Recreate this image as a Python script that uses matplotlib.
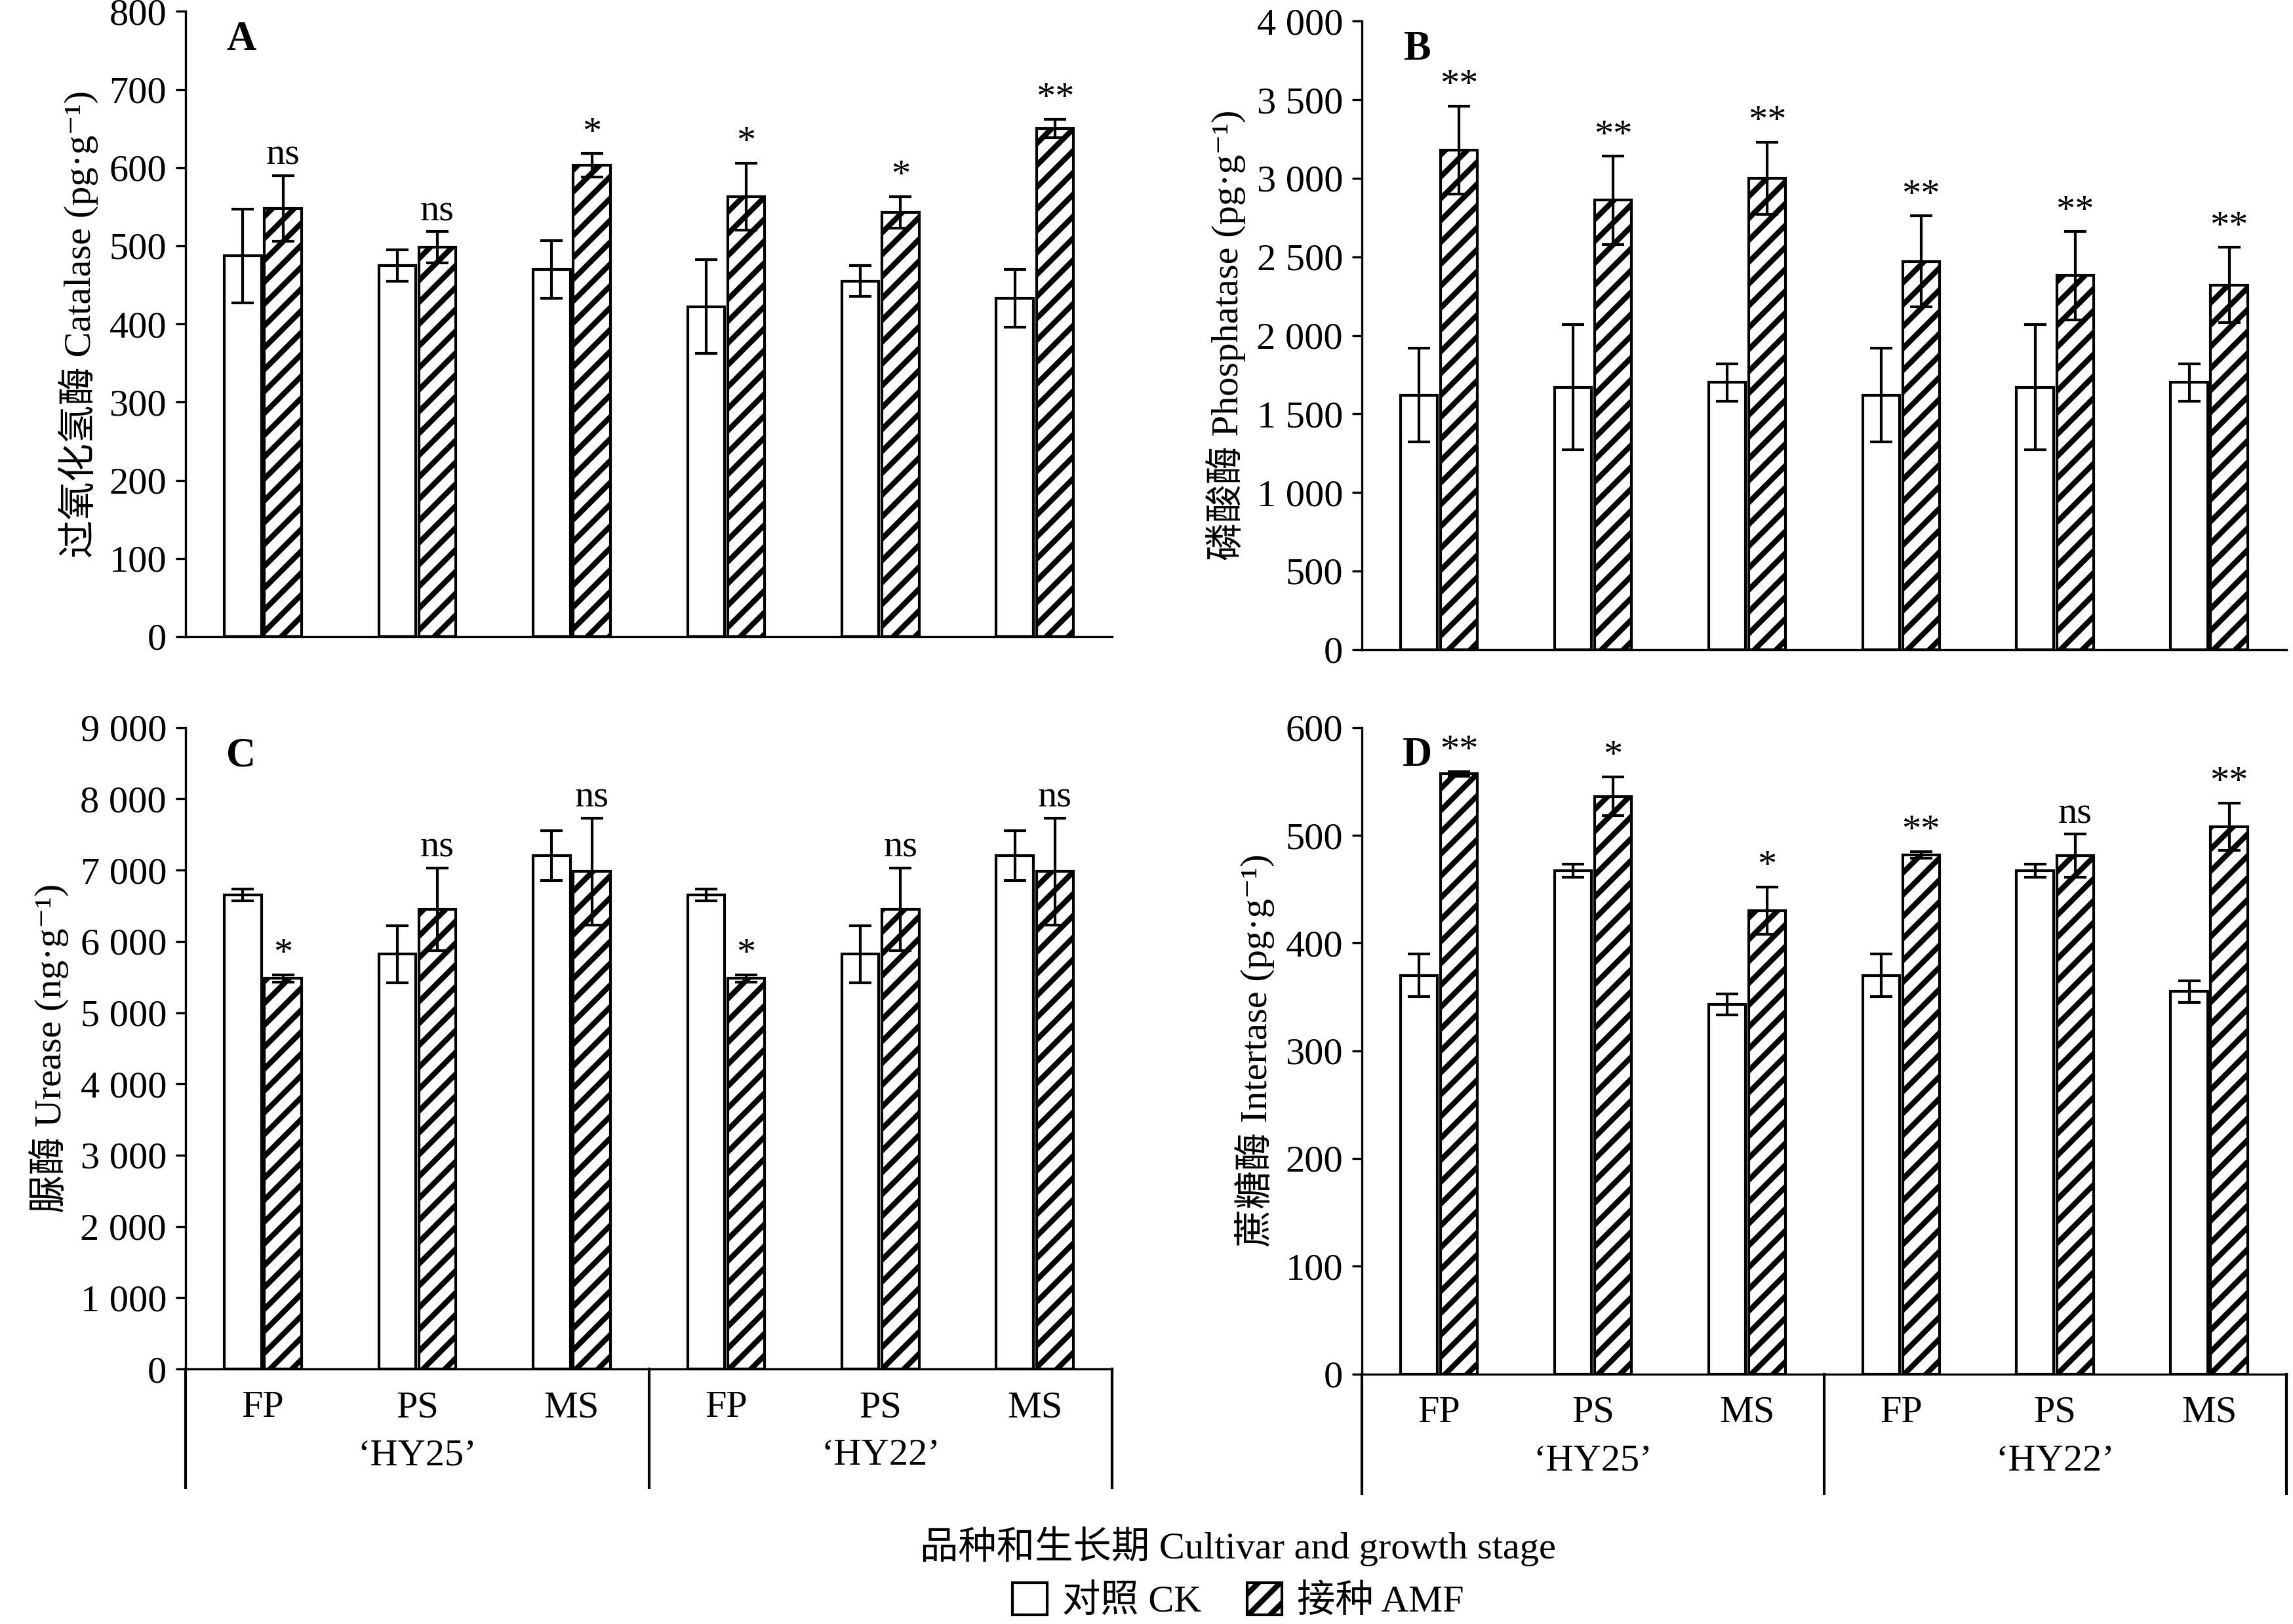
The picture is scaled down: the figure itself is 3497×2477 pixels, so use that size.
import matplotlib
matplotlib.use('Agg')
import matplotlib.pyplot as plt
import matplotlib.patches as mpatches
from matplotlib.lines import Line2D
from matplotlib.ticker import FuncFormatter
import numpy as np

plt.rcParams['font.family'] = ['Liberation Serif', 'Noto Sans CJK SC', 'DejaVu Sans']
plt.rcParams['hatch.linewidth'] = 2.0
plt.rcParams['font.size'] = 13

stages = ['FP', 'PS', 'MS', 'FP', 'PS', 'MS']
cultivars = ['\u2018HY25\u2019', '\u2018HY22\u2019']

a_ck = [487, 475, 470, 422, 455, 433]
a_ck_err = [60, 20, 37, 60, 20, 37]
a_amf = [548, 498, 603, 563, 543, 650]
a_amf_err = [42, 20, 15, 43, 20, 12]
a_sig = ['ns', 'ns', '*', '*', '*', '**']

b_ck = [1620, 1670, 1700, 1620, 1670, 1700]
b_ck_err = [300, 400, 120, 300, 400, 120]
b_amf = [3180, 2860, 3000, 2470, 2380, 2320]
b_amf_err = [280, 280, 230, 290, 280, 240]
b_sig = ['**'] * 6

c_ck = [6650, 5820, 7200, 6650, 5820, 7200]
c_ck_err = [80, 400, 350, 80, 400, 350]
c_amf = [5480, 6450, 6980, 5480, 6450, 6980]
c_amf_err = [50, 580, 750, 50, 580, 750]
c_sig = ['*', 'ns', 'ns', '*', 'ns', 'ns']

d_ck = [370, 467, 343, 370, 467, 355]
d_ck_err = [20, 6, 10, 20, 6, 10]
d_amf = [557, 536, 430, 482, 481, 508]
d_amf_err = [2, 18, 22, 3, 20, 22]
d_sig = ['**', '*', '*', '**', 'ns', '**']

fig = plt.figure(figsize=(3497 / 300, 2477 / 300), dpi=300)

def thousands(v, pos):
    return f'{int(v):,}'.replace(',', ' ')

def panel(rect, ck, ckerr, amf, amferr, sig, ymax, step, ylabel, letter, bottom_axis):
    ax = fig.add_axes(rect)
    x = np.arange(6)
    w = 0.24
    ax.bar(x - 0.13, ck, w, yerr=ckerr, color='white', edgecolor='black', lw=1,
           capsize=4, error_kw=dict(lw=1, capthick=1))
    ax.bar(x + 0.13, amf, w, yerr=amferr, color='white', edgecolor='black', lw=1,
           hatch='///', capsize=4, error_kw=dict(lw=1, capthick=1))
    for i in range(6):
        ax.text(x[i] + 0.13, amf[i] + amferr[i] + ymax * 0.005, sig[i],
                ha='center', va='bottom', fontsize=14)
    ax.set_xlim(-0.5, 5.5)
    ax.set_ylim(0, ymax)
    ax.set_yticks(np.arange(0, ymax + 1, step))
    ax.yaxis.set_major_formatter(FuncFormatter(thousands))
    ax.tick_params(axis='y', labelsize=14)
    ax.spines['top'].set_visible(False)
    ax.spines['right'].set_visible(False)
    ax.set_ylabel(ylabel, fontsize=14)
    ax.text(0.06, 0.985, letter, transform=ax.transAxes, fontweight='bold',
            fontsize=15, va='top', ha='center')
    if bottom_axis:
        ax.set_xticks(x)
        ax.set_xticklabels(stages, fontsize=14)
        ax.tick_params(axis='x', length=0, pad=8)
        for xv in [-0.5, 2.5, 5.5]:
            ax.add_line(Line2D([xv, xv], [0, -0.185], transform=ax.get_xaxis_transform(),
                               color='black', lw=1, clip_on=False))
        for j, c in enumerate(cultivars):
            ax.text(1 + 3 * j, -0.135, c, transform=ax.get_xaxis_transform(),
                    ha='center', va='center', fontsize=14)
    else:
        ax.set_xticks([])
    return ax

panel([0.081, 0.608, 0.404, 0.385], a_ck, a_ck_err, a_amf, a_amf_err, a_sig, 800, 100,
      '过氧化氢酶 Catalase (pg·g⁻¹)', 'A', False)
panel([0.594, 0.600, 0.403, 0.387], b_ck, b_ck_err, b_amf, b_amf_err, b_sig, 4000, 500,
      '磷酸酶 Phosphatase (pg·g⁻¹)', 'B', False)
panel([0.081, 0.157, 0.404, 0.395], c_ck, c_ck_err, c_amf, c_amf_err, c_sig, 9000, 1000,
      '脲酶 Urease (ng·g⁻¹)', 'C', True)
panel([0.594, 0.154, 0.403, 0.398], d_ck, d_ck_err, d_amf, d_amf_err, d_sig, 600, 100,
      '蔗糖酶 Intertase (pg·g⁻¹)', 'D', True)

fig.text(0.54, 0.048, '品种和生长期 Cultivar and growth stage', ha='center', va='center', fontsize=14)
handles = [mpatches.Patch(facecolor='white', edgecolor='black', label='对照 CK'),
           mpatches.Patch(facecolor='white', edgecolor='black', hatch='///', label='接种 AMF')]
fig.legend(handles=handles, loc='center', bbox_to_anchor=(0.54, 0.014), ncol=2,
           frameon=False, fontsize=14, handlelength=0.9, handleheight=0.9,
           columnspacing=1.2, handletextpad=0.4)

fig.savefig('out.png', dpi=300)
